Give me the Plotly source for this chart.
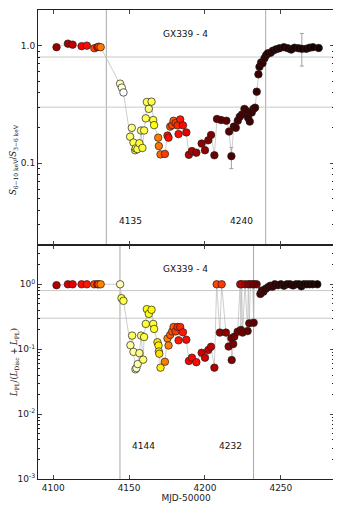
import plotly.graph_objects as go

# ---------------- data ----------------
# Top panel: hardness ratio S(6-10 keV)/S(3-6 keV)
mjd_top = [4102.2, 4109.7, 4112.8, 4118.7, 4122.2, 4127.1, 4129.1, 4130.0, 4131.3,
           4144.1, 4145.2, 4146.3, 4150.7, 4151.8, 4152.9, 4154.0, 4154.4, 4155.5,
           4156.8, 4157.9, 4158.8, 4159.9, 4161.0, 4161.7, 4163.0, 4164.8, 4165.9,
           4166.5, 4169.2, 4169.6, 4170.7, 4173.6, 4175.3, 4176.0, 4177.1, 4178.4,
           4179.3, 4180.6, 4181.9, 4182.6, 4183.7, 4185.5, 4187.7, 4189.4, 4191.4,
           4194.3, 4197.8, 4200.0, 4202.2, 4204.0, 4206.2, 4207.9, 4210.6, 4214.1,
           4215.9, 4217.4, 4219.0, 4220.3, 4221.6, 4222.9, 4224.4, 4226.0, 4227.5,
           4228.4, 4229.5, 4230.8, 4231.9, 4233.0, 4234.1, 4235.2, 4235.9, 4237.0,
           4237.9, 4239.2, 4240.3, 4241.4, 4243.2, 4244.7, 4246.9, 4249.1, 4252.0,
           4254.6, 4256.8, 4259.0, 4261.7, 4263.8, 4266.7, 4268.9, 4271.1, 4274.9]
ratio_top = [0.97, 1.04, 1.02, 0.99, 1.00, 0.95, 0.97, 0.98, 0.97,
             0.475, 0.44, 0.40, 0.168, 0.20, 0.15, 0.129, 0.134, 0.132,
             0.148, 0.19, 0.135, 0.19, 0.241, 0.332, 0.29, 0.334, 0.233,
             0.211, 0.165, 0.14, 0.119, 0.12, 0.172, 0.165, 0.205, 0.211,
             0.23, 0.22, 0.21, 0.177, 0.236, 0.21, 0.183, 0.118, 0.127,
             0.123, 0.147, 0.129, 0.157, 0.174, 0.117, 0.238, 0.233, 0.23,
             0.186, 0.115, 0.205, 0.20, 0.23, 0.249, 0.26, 0.29, 0.277,
             0.244, 0.226, 0.27, 0.29, 0.297, 0.406, 0.57, 0.66, 0.72,
             0.71, 0.78, 0.83, 0.86, 0.87, 0.906, 0.93, 0.95, 0.97,
             0.95, 0.925, 0.96, 0.95, 0.94, 0.94, 0.96, 0.97, 0.955]
colour_top = [0.22, 0.24, 0.27, 0.36, 0.38, 0.48, 0.35, 0.45, 0.55,
              0.93, 0.96, 1.0, 0.85, 0.88, 0.82, 0.80, 0.78, 0.82,
              0.80, 0.85, 0.80, 0.82, 0.83, 0.84, 0.87, 0.82, 0.80,
              0.76, 0.55, 0.54, 0.52, 0.45, 0.40, 0.38, 0.48, 0.47,
              0.50, 0.45, 0.42, 0.38, 0.40, 0.38, 0.33, 0.25, 0.25,
              0.22, 0.20, 0.20, 0.18, 0.18, 0.15, 0.13, 0.12, 0.12,
              0.12, 0.10, 0.10, 0.10, 0.10, 0.09, 0.09, 0.09, 0.09,
              0.08, 0.08, 0.08, 0.08, 0.08, 0.07, 0.07, 0.06, 0.06,
              0.06, 0.06, 0.05, 0.05, 0.05, 0.05, 0.04, 0.04, 0.04,
              0.04, 0.03, 0.03, 0.03, 0.03, 0.03, 0.02, 0.02, 0.02]
err_top_mjd = [4217.4, 4263.8]
err_top_val = [0.115, 0.94]
err_top_plus = [0.021, 0.33]
err_top_minus = [0.025, 0.27]

# Bottom panel: power-law fraction L_PL/(L_Disc+L_PL)
mjd_bot = [4102.2, 4109.7, 4112.8, 4118.7, 4122.2, 4127.1, 4129.1, 4130.0, 4131.3,
           4144.1, 4145.0, 4146.3, 4150.9, 4152.0, 4152.9, 4154.2, 4154.8, 4155.7,
           4156.8, 4157.9, 4159.3, 4159.9, 4161.0, 4161.7, 4163.0, 4164.8, 4165.9,
           4166.5, 4168.7, 4169.4, 4169.6, 4169.9, 4170.7, 4173.6, 4175.3, 4176.0,
           4177.1, 4178.4, 4179.3, 4180.6, 4181.9, 4182.6, 4183.7, 4185.5, 4187.7,
           4189.4, 4191.4, 4194.3, 4197.8, 4200.0, 4202.2, 4204.0, 4206.2, 4207.7,
           4209.8, 4211.0, 4213.8, 4215.6, 4217.4, 4217.6, 4218.6, 4219.3, 4221.5,
           4223.2, 4223.7, 4224.2, 4224.8, 4226.4, 4228.1, 4228.5, 4229.2, 4229.9,
           4231.4, 4232.1, 4232.5, 4234.0, 4236.5, 4237.5, 4238.5, 4240.0, 4241.5,
           4243.0, 4244.5, 4246.0, 4248.0, 4250.0, 4252.0, 4254.0, 4256.0, 4258.0,
           4260.0, 4262.0, 4263.5, 4265.0, 4267.0, 4269.0, 4271.0, 4274.0]
frac_bot = [0.97, 1.0, 1.0, 1.0, 1.0, 1.0, 1.0, 1.0, 1.0,
            1.0, 0.61, 0.556, 0.115, 0.162, 0.091, 0.049, 0.051, 0.059,
            0.087, 0.162, 0.069, 0.154, 0.245, 0.414, 0.35, 0.405, 0.245,
            0.205, 0.128, 0.114, 0.092, 0.085, 0.052, 0.064, 0.146, 0.114,
            0.166, 0.188, 0.22, 0.188, 0.22, 0.137, 0.22, 0.182, 0.14,
            0.066, 0.074, 0.063, 0.088, 0.074, 0.097, 0.109, 0.052, 1.0,
            0.18, 1.0, 0.18, 0.11, 0.148, 0.068, 0.12, 0.156, 0.186,
            1.0, 0.198, 1.0, 0.18, 1.0, 0.19, 1.0, 0.25, 1.0,
            1.0, 0.256, 1.0, 1.0, 0.71, 0.80, 0.77, 0.85, 0.90,
            0.95, 0.92, 1.0, 0.97, 1.0, 0.95, 1.0, 1.0, 0.96,
            1.0, 1.0, 0.93, 1.0, 1.0, 1.0, 1.0, 1.0]
colour_bot = [0.25, 0.30, 0.33, 0.38, 0.40, 0.48, 0.35, 0.50, 0.56,
              0.93, 0.80, 0.82, 0.90, 0.84, 0.90, 0.98, 0.95, 0.92,
              0.88, 0.83, 0.85, 0.82, 0.80, 0.75, 0.77, 0.74, 0.80,
              0.78, 0.70, 0.72, 0.72, 0.70, 0.72, 0.55, 0.55, 0.55,
              0.50, 0.50, 0.50, 0.45, 0.42, 0.40, 0.42, 0.40, 0.38,
              0.37, 0.37, 0.38, 0.30, 0.30, 0.28, 0.27, 0.25, 0.47,
              0.20, 0.45, 0.20, 0.18, 0.17, 0.17, 0.17, 0.16, 0.16,
              0.38, 0.15, 0.30, 0.15, 0.25, 0.14, 0.22, 0.14, 0.20,
              0.18, 0.13, 0.17, 0.15, 0.10, 0.10, 0.10, 0.08, 0.08,
              0.07, 0.07, 0.06, 0.06, 0.05, 0.05, 0.05, 0.04, 0.04,
              0.04, 0.04, 0.03, 0.03, 0.03, 0.03, 0.03, 0.02]

vlines_top = [4135, 4240]
vlines_bot = [4144, 4232]
hlines = [0.8, 0.3]
x_ticks = [4100, 4150, 4200, 4250]

# ---------------- styling ----------------
HOT = [[0.0, "#0b0000"], [0.365, "#ff0000"], [0.746, "#ffff00"], [1.0, "#ffffff"]]
FONT = "DejaVu Sans, Arial, sans-serif"

fig = go.Figure()

def add_panel(xs, ys, cs, xa, ya):
    fig.add_trace(go.Scatter(
        x=xs, y=ys, mode="lines", xaxis=xa, yaxis=ya,
        line=dict(color="#b8b8b8", width=0.7), hoverinfo="skip", showlegend=False))
    fig.add_trace(go.Scatter(
        x=xs, y=ys, mode="markers", xaxis=xa, yaxis=ya, showlegend=False,
        marker=dict(size=7.5, color=cs, colorscale=HOT, cmin=0, cmax=1,
                    line=dict(color="#202020", width=0.7))))

# error bars (top panel) drawn beneath markers
fig.add_trace(go.Scatter(
    x=err_top_mjd, y=err_top_val, mode="markers", xaxis="x2", yaxis="y2",
    marker=dict(size=1, color="rgba(0,0,0,0)"), showlegend=False,
    error_y=dict(type="data", symmetric=False, array=err_top_plus,
                 arrayminus=err_top_minus, color="#a0a0a0", thickness=1, width=2)))

add_panel(mjd_top, ratio_top, colour_top, "x2", "y2")
add_panel(mjd_bot, frac_bot, colour_bot, "x", "y")

shapes = []
for v in vlines_top:
    shapes.append(dict(type="line", xref="x2", yref="y2 domain", x0=v, x1=v, y0=0, y1=1,
                       line=dict(color="#a8a8a8", width=1), layer="below"))
for v in vlines_bot:
    shapes.append(dict(type="line", xref="x", yref="y domain", x0=v, x1=v, y0=0, y1=1,
                       line=dict(color="#a8a8a8", width=1), layer="below"))
for h in hlines:
    shapes.append(dict(type="line", xref="x2 domain", yref="y2", x0=0, x1=1, y0=h, y1=h,
                       line=dict(color="#c8c8c8", width=1), layer="below"))
    shapes.append(dict(type="line", xref="x domain", yref="y", x0=0, x1=1, y0=h, y1=h,
                       line=dict(color="#c8c8c8", width=1), layer="below"))

minor_top = [m * 10 ** e for e in (-2, -1) for m in range(2, 10)] + [2.0]
minor_bot = [m * 10 ** e for e in (-3, -2, -1, 0) for m in range(2, 10)]

common_x = dict(range=[4090, 4285], tickvals=x_ticks, ticks="inside", ticklen=4,
                showline=True, linecolor="#222222", linewidth=1, mirror="ticks",
                showgrid=False, zeroline=False, automargin=False,
                tickfont=dict(family=FONT, size=9, color="#222"))
common_y = dict(type="log", ticks="inside", ticklen=4, showline=True, linecolor="#222222",
                linewidth=1, mirror="ticks", showgrid=False, zeroline=False, automargin=False,
                tickfont=dict(family=FONT, size=9, color="#222"))

# the page body has an 8 px default margin, so the figure is made 8 px smaller
split = 0.4989
fig.update_layout(
    width=333, height=503,
    margin=dict(l=30, r=7, t=2, b=32),
    paper_bgcolor="white", plot_bgcolor="white",
    xaxis=dict(**common_x, domain=[0, 1], anchor="y",
               title=dict(text="MJD-50000", font=dict(family=FONT, size=9, color="#222"),
                          standoff=0)),
    xaxis2=dict(**common_x, domain=[0, 1], anchor="y2", matches="x", showticklabels=False),
    yaxis=dict(**common_y, domain=[0, split], anchor="x", range=[-3, 0.605],
               tickvals=[1e-3, 1e-2, 1e-1, 1],
               ticktext=["10<sup>-3</sup>", "10<sup>-2</sup>", "10<sup>-1</sup>", "10<sup>0</sup>"],
               minor=dict(tickvals=minor_bot, ticks="inside", ticklen=2, tickcolor="#222",
                          showgrid=False)),
    yaxis2=dict(**common_y, domain=[split, 1], anchor="x2", range=[-1.695, 0.303],
                tickvals=[0.1, 1.0], ticktext=["0.1", "1.0"],
                minor=dict(tickvals=minor_top, ticks="inside", ticklen=2, tickcolor="#222",
                           showgrid=False)),
    shapes=shapes,
)

ann_font = dict(family=FONT, size=9, color="#111")
title_font = dict(family="DejaVu Serif, serif", size=8.5, color="#111")

def note(text, x, y, font=ann_font, angle=0):
    return dict(text=text, x=x, y=y, xref="paper", yref="paper", showarrow=False,
                xanchor="center", yanchor="middle", textangle=angle, font=font)

annotations = [
    note("GX339 - 4", 0.499, 0.9488),
    note("GX339 - 4", 0.499, 0.4488),
    note("4135", 0.313, 0.550),
    note("4240", 0.688, 0.550),
    note("4144", 0.358, 0.0704),
    note("4232", 0.652, 0.0704),
    note("<i>S</i><sub>6−10 keV</sub>/<i>S</i><sub>3−6 keV</sub>",
         (14 - 38) / 296, (479 - 160) / 469, title_font, -90),
    note("<i>L</i><sub>PL</sub>/(<i>L</i><sub>Disc</sub> + <i>L</i><sub>PL</sub>)",
         (14 - 38) / 296, (479 - 363) / 469, title_font, -90),
]
fig.update_layout(annotations=annotations)

fig.write_html("out.html")
